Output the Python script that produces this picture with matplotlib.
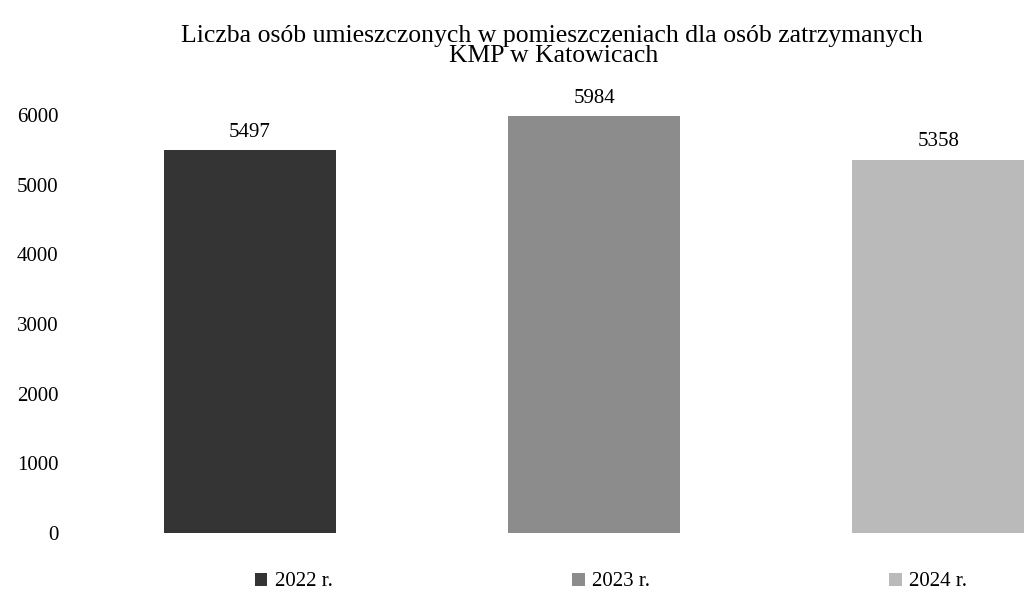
import matplotlib
matplotlib.use('Agg')
import matplotlib.pyplot as plt

plt.rcParams['font.family'] = ['Liberation Serif', 'DejaVu Serif']

# dane
years = ['2022 r.', '2023 r.', '2024 r.']
counts = [5497, 5984, 5358]
colors = ['#343434', '#8c8c8c', '#bababa']
y_ticks = [0, 1000, 2000, 3000, 4000, 5000, 6000]

title_lines = ['Liczba osób umieszczonych w pomieszczeniach dla osób zatrzymanych',
               'KMP w Katowicach']

fig = plt.figure(figsize=(10.27, 5.98), dpi=100)
ax = fig.add_axes([0.076, 0.1087, 0.928, 0.699])

x = list(range(len(years)))
bars = ax.bar(x, counts, width=0.5, color=colors, label=years)

for xi, v in zip(x, counts):
    ax.annotate(str(v), (xi, v), xytext=(0, 6), textcoords='offset points',
                ha='center', va='bottom', fontsize=15, annotation_clip=False)

ax.set_xlim(-0.5, 2.27)
ax.set_ylim(0, 6000)
ax.set_yticks(y_ticks)
ax.set_yticklabels([str(t) for t in y_ticks])
ax.tick_params(axis='y', length=0, pad=14, labelsize=15)
ax.set_xticks([])
for s in ax.spines.values():
    s.set_visible(False)

# tytuł w dwóch liniach, jak na oryginale
fig.text(552 / 1027, 1 - 42 / 598, title_lines[0], ha='center', va='baseline',
         fontsize=18.5)
fig.text(554 / 1027, 1 - 62 / 598, title_lines[1], ha='center', va='baseline',
         fontsize=18.5)

fig.legend(bars, years, loc='center', bbox_to_anchor=(611 / 1027, 1 - 582 / 598),
           ncol=3, frameon=False, fontsize=15, handlelength=0.6,
           handleheight=0.6, handletextpad=0.35, columnspacing=11.5)

fig.savefig('out.png', dpi=100)
